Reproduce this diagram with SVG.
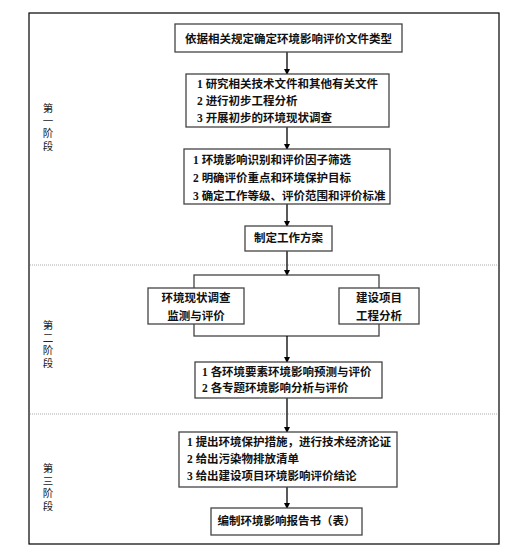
<svg xmlns="http://www.w3.org/2000/svg" width="511" height="552" viewBox="0 0 511 552">
<defs>
<marker id="arr" markerWidth="6" markerHeight="6" refX="5" refY="3" orient="auto" markerUnits="userSpaceOnUse">
<path d="M0,0 L6,3 L0,6 z" fill="#000"/>
</marker>
<style>
.box{fill:#fff;stroke:#444;stroke-width:1.3}
.t{font-family:"Liberation Serif","Noto Sans CJK SC",serif;font-size:11.5px;fill:#111;font-weight:bold}
.s{font-family:"Liberation Serif","Noto Sans CJK SC",serif;font-size:10.5px;fill:#222}
.c{text-anchor:middle}
.ln{stroke:#000;stroke-width:1.3;fill:none}
.sep{stroke:#aaa;stroke-width:1;stroke-dasharray:1 1}
</style>
</defs>
<rect x="0" y="0" width="511" height="552" fill="#fff"/>
<rect x="29" y="13" width="470" height="531" fill="none" stroke="#000" stroke-width="1.2"/>
<line class="sep" x1="30" y1="265" x2="498" y2="265"/>
<line class="sep" x1="30" y1="414" x2="498" y2="414"/>
<g id="stage1" class="s c">
<text x="48" y="112">第</text><text x="48" y="124.5">一</text><text x="48" y="137">阶</text><text x="48" y="149.5">段</text>
</g>
<g id="stage2" class="s c">
<text x="48" y="329">第</text><text x="48" y="341.5">二</text><text x="48" y="354">阶</text><text x="48" y="366.5">段</text>
</g>
<g id="stage3" class="s c">
<text x="48" y="472">第</text><text x="48" y="484.5">三</text><text x="48" y="497">阶</text><text x="48" y="509.5">段</text>
</g>
<g id="connectors">
<line class="ln" x1="287" y1="52" x2="287" y2="74" marker-end="url(#arr)"/>
<line class="ln" x1="287" y1="127" x2="287" y2="149" marker-end="url(#arr)"/>
<line class="ln" x1="287" y1="204" x2="287" y2="226" marker-end="url(#arr)"/>
<line class="ln" x1="287" y1="251" x2="287" y2="275" marker-end="url(#arr)"/>
<rect x="194" y="275" width="185" height="61" fill="none" stroke="#444" stroke-width="1.3"/>
<line class="ln" x1="287" y1="336" x2="287" y2="362" marker-end="url(#arr)"/>
<line class="ln" x1="287" y1="398" x2="287" y2="432" marker-end="url(#arr)"/>
<line class="ln" x1="287" y1="487" x2="287" y2="508" marker-end="url(#arr)"/>
</g>
<g id="n1">
<rect class="box" x="175" y="24" width="227" height="28"/>
<text class="t c" x="288.5" y="42.5">依据相关规定确定环境影响评价文件类型</text>
</g>
<g id="n2">
<rect class="box" x="186" y="74" width="203" height="53"/>
<text class="t" x="197" y="88">1 研究相关技术文件和其他有关文件</text>
<text class="t" x="197" y="105">2 进行初步工程分析</text>
<text class="t" x="197" y="122">3 开展初步的环境现状调查</text>
</g>
<g id="n3">
<rect class="box" x="184" y="149" width="206" height="55"/>
<text class="t" x="193" y="164">1 环境影响识别和评价因子筛选</text>
<text class="t" x="193" y="182">2 明确评价重点和环境保护目标</text>
<text class="t" x="193" y="200">3 确定工作等级、评价范围和评价标准</text>
</g>
<g id="n4">
<rect class="box" x="245" y="226" width="87" height="25"/>
<text class="t c" x="288.5" y="242">制定工作方案</text>
</g>
<g id="n5">
<rect class="box" x="148" y="288" width="96" height="36"/>
<text class="t c" x="196" y="302">环境现状调查</text>
<text class="t c" x="196" y="320">监测与评价</text>
</g>
<g id="n6">
<rect class="box" x="339" y="288" width="80" height="36"/>
<text class="t c" x="379" y="302">建设项目</text>
<text class="t c" x="379" y="320">工程分析</text>
</g>
<g id="n7">
<rect class="box" x="195" y="362" width="187" height="36"/>
<text class="t" x="202" y="376">1 各环境要素环境影响预测与评价</text>
<text class="t" x="202" y="392">2 各专题环境影响分析与评价</text>
</g>
<g id="n8">
<rect class="box" x="179" y="432" width="218" height="55"/>
<text class="t" x="187" y="446">1 提出环境保护措施，进行技术经济论证</text>
<text class="t" x="187" y="463">2 给出污染物排放清单</text>
<text class="t" x="187" y="480">3 给出建设项目环境影响评价结论</text>
</g>
<g id="n9">
<rect class="box" x="211" y="508" width="151" height="27"/>
<text class="t c" x="286.5" y="525">编制环境影响报告书（表）</text>
</g>
</svg>
